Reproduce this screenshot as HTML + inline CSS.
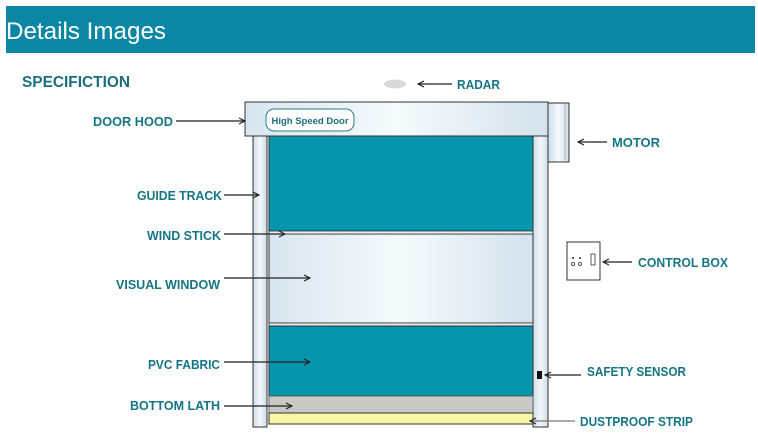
<!DOCTYPE html>
<html><head><meta charset="utf-8"><style>
html,body{margin:0;padding:0;background:#fff;width:758px;height:441px;overflow:hidden}
svg{display:block}
text{font-family:"Liberation Sans",sans-serif}
.l{fill:#167584;font-size:13px;font-weight:bold}
</style></head><body>
<svg width="758" height="441" viewBox="0 0 758 441" xmlns="http://www.w3.org/2000/svg">
<defs>
<linearGradient id="g" x1="0" x2="1"><stop offset="0" stop-color="#d9e6ef"/><stop offset="0.5" stop-color="#f6fafc"/><stop offset="1" stop-color="#d4e2ec"/></linearGradient>
<linearGradient id="gv" x1="0" x2="1"><stop offset="0" stop-color="#cfdde8"/><stop offset="0.5" stop-color="#f4f8fb"/><stop offset="1" stop-color="#cfdde8"/></linearGradient>
<marker id="a" markerWidth="8" markerHeight="8" refX="7" refY="4" orient="auto" markerUnits="userSpaceOnUse"><path d="M1,1 L7,4 L1,7" fill="none" stroke="#222" stroke-width="1.2"/></marker>
</defs>
<rect x="6" y="6" width="749" height="47" fill="#0b87a3"/>
<text x="6" y="39" fill="#fff" font-size="24" textLength="160" lengthAdjust="spacingAndGlyphs">Details Images</text>
<text x="22" y="87" fill="#1a6f7d" font-size="16" font-weight="bold" textLength="108" lengthAdjust="spacingAndGlyphs">SPECIFICTION</text>

<ellipse cx="395" cy="84" rx="11" ry="4.5" fill="#d8d8d8"/>
<rect x="253" y="136" width="14" height="291" fill="url(#gv)" stroke="#333" stroke-width="1"/>
<rect x="533" y="136" width="15" height="291" fill="url(#gv)" stroke="#333" stroke-width="1"/>
<rect x="269" y="136" width="264" height="95" fill="#0794ad" stroke="#333" stroke-width="1"/>
<rect x="269" y="234" width="264" height="89" fill="url(#g)" stroke="#333" stroke-width="1"/>
<rect x="269" y="231" width="264" height="3" fill="#e8eef2" stroke="#333" stroke-width="0.8"/>
<rect x="269" y="323" width="264" height="3" fill="#e8eef2" stroke="#333" stroke-width="0.8"/>
<rect x="269" y="326" width="264" height="70" fill="#0794ad" stroke="#333" stroke-width="1"/>
<rect x="269" y="396" width="264" height="17" fill="#c8c8c6" stroke="#555" stroke-width="0.8"/>
<rect x="269" y="413" width="264" height="11" fill="#fbf5a8" stroke="#333" stroke-width="1"/>
<rect x="245" y="102" width="303" height="34" fill="url(#g)" stroke="#333" stroke-width="1"/>
<rect x="266" y="109" width="88" height="22" rx="8" fill="#fff" stroke="#2a7c8c" stroke-width="1"/>
<text x="310" y="124" text-anchor="middle" fill="#1d6f7e" font-size="9.5" font-weight="bold">High Speed Door</text>
<rect x="548" y="103" width="21" height="59" fill="url(#gv)" stroke="#333" stroke-width="1"/>
<line x1="565" y1="103" x2="565" y2="160" stroke="#888" stroke-width="0.6"/>
<rect x="567" y="242" width="33" height="38" fill="#fff" stroke="#333" stroke-width="1"/>
<circle cx="573" cy="258" r="1" fill="#333"/><circle cx="580" cy="258" r="1" fill="#333"/>
<circle cx="573" cy="264" r="1.6" fill="none" stroke="#333" stroke-width="0.8"/><circle cx="580" cy="264" r="1.6" fill="none" stroke="#333" stroke-width="0.8"/>
<rect x="591" y="254" width="4" height="11" fill="#fff" stroke="#333" stroke-width="0.8"/>
<rect x="537" y="371" width="5" height="8" fill="#111"/>

<g stroke="#222" stroke-width="1.2" marker-end="url(#a)">
<line x1="176" y1="121" x2="245" y2="121"/>
<line x1="224" y1="195" x2="259" y2="195"/>
<line x1="224" y1="234" x2="285" y2="234"/>
<line x1="224" y1="278" x2="310" y2="278"/>
<line x1="224" y1="362" x2="310" y2="362"/>
<line x1="224" y1="406" x2="292" y2="406"/>
<line x1="452" y1="84" x2="418" y2="84"/>
<line x1="607" y1="142" x2="578" y2="142"/>
<line x1="632" y1="262" x2="603" y2="262"/>
<line x1="581" y1="375" x2="545" y2="375"/>
<line x1="575" y1="421" x2="530" y2="421" stroke="#777"/>
</g>
<g class="l" font-size="13" font-weight="bold" fill="#167584">
<text class="l" x="93" y="126" textLength="80" lengthAdjust="spacingAndGlyphs">DOOR HOOD</text>
<text class="l" x="137" y="200" textLength="85" lengthAdjust="spacingAndGlyphs">GUIDE TRACK</text>
<text class="l" x="147" y="240" textLength="74" lengthAdjust="spacingAndGlyphs">WIND STICK</text>
<text class="l" x="116" y="289" textLength="104" lengthAdjust="spacingAndGlyphs">VISUAL WINDOW</text>
<text class="l" x="148" y="369" textLength="72" lengthAdjust="spacingAndGlyphs">PVC FABRIC</text>
<text class="l" x="130" y="410" textLength="90" lengthAdjust="spacingAndGlyphs">BOTTOM LATH</text>
<text class="l" x="457" y="89" textLength="43" lengthAdjust="spacingAndGlyphs">RADAR</text>
<text class="l" x="612" y="147" textLength="48" lengthAdjust="spacingAndGlyphs">MOTOR</text>
<text class="l" x="638" y="267" textLength="90" lengthAdjust="spacingAndGlyphs">CONTROL BOX</text>
<text class="l" x="587" y="376" textLength="99" lengthAdjust="spacingAndGlyphs">SAFETY SENSOR</text>
<text class="l" x="580" y="426" textLength="113" lengthAdjust="spacingAndGlyphs">DUSTPROOF STRIP</text>
</g>
</svg>
</body></html>
